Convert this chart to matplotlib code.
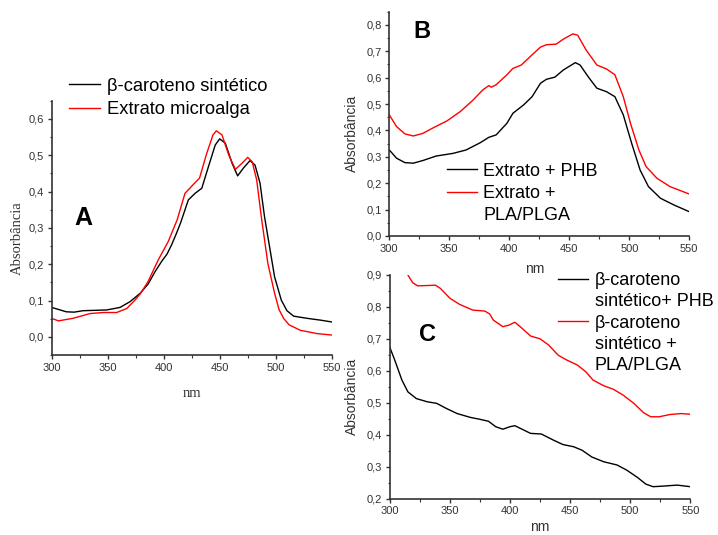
import matplotlib
matplotlib.use('Agg')
from matplotlib import pyplot as plt
from matplotlib.ticker import MultipleLocator
from matplotlib.lines import Line2D

plt.rcParams['font.family'] = ['Liberation Sans', 'DejaVu Sans']

# painel A - espectros
a_x_sint = [300, 313, 320, 328, 349, 361, 370, 379, 386, 392, 398, 403, 407, 411, 415, 422, 428,
            434, 440, 446, 450, 455, 461, 466, 471, 477, 481.5, 486, 490, 495, 499, 505, 510,
            516, 528, 540, 550]
a_y_sint = [0.081, 0.069, 0.068, 0.072, 0.074, 0.081, 0.097, 0.120, 0.145, 0.178, 0.207, 0.228,
            0.253, 0.282, 0.313, 0.377, 0.395, 0.409, 0.469, 0.528, 0.545, 0.533, 0.478, 0.443,
            0.464, 0.485, 0.473, 0.423, 0.331, 0.239, 0.165, 0.101, 0.072, 0.057, 0.051, 0.046,
            0.041]
a_x_alga = [300, 306, 319, 334, 346, 358, 367, 374, 379, 386, 395, 404, 412, 419, 426, 432, 438,
            444, 447, 452, 458, 464, 470, 475, 479, 483, 487.5, 493, 499, 503, 507, 512, 522,
            537, 550]
a_y_alga = [0.051, 0.044, 0.051, 0.064, 0.067, 0.067, 0.078, 0.100, 0.118, 0.152, 0.211, 0.262,
            0.322, 0.395, 0.418, 0.437, 0.501, 0.556, 0.567, 0.556, 0.501, 0.461, 0.478, 0.494,
            0.482, 0.432, 0.322, 0.202, 0.120, 0.075, 0.051, 0.033, 0.018, 0.009, 0.005]

# painel B
b_x_phb = [300, 306, 313, 320, 328, 339, 353, 364, 376, 383, 389, 398, 403, 412, 419, 426, 431,
           438, 445, 455, 459, 466, 473, 481, 488, 495, 502, 509, 516, 526, 537, 550]
b_y_phb = [0.326, 0.295, 0.278, 0.276, 0.286, 0.303, 0.313, 0.326, 0.354, 0.374, 0.383, 0.427,
           0.465, 0.497, 0.528, 0.579, 0.594, 0.602, 0.629, 0.657, 0.648, 0.602, 0.560, 0.547,
           0.528, 0.459, 0.351, 0.250, 0.187, 0.143, 0.118, 0.092]
b_x_pla = [300, 306, 313, 320, 328, 337, 348, 359, 370, 378, 383, 385, 389, 398, 403, 410, 417,
           426, 431, 439, 445, 453, 457, 464, 473, 481, 488, 495, 501, 508, 514, 523, 534, 550]
b_y_pla = [0.459, 0.415, 0.387, 0.379, 0.389, 0.411, 0.436, 0.471, 0.516, 0.554, 0.570, 0.564,
           0.573, 0.611, 0.635, 0.648, 0.678, 0.716, 0.725, 0.727, 0.746, 0.766, 0.761, 0.705,
           0.648, 0.633, 0.611, 0.528, 0.427, 0.326, 0.263, 0.219, 0.187, 0.159]

# painel C
c_x_phb = [300, 304, 310, 315, 322, 331, 339, 347, 356, 367, 375, 382, 388, 394, 400, 404, 410,
           417, 426, 436, 444, 453, 460, 468, 478, 489, 497, 506, 513, 519, 528, 539, 550]
c_y_phb = [0.673, 0.634, 0.571, 0.534, 0.513, 0.503, 0.498, 0.482, 0.466, 0.454, 0.448, 0.442,
           0.425, 0.417, 0.425, 0.428, 0.417, 0.404, 0.402, 0.383, 0.369, 0.362, 0.351, 0.330,
           0.315, 0.305, 0.289, 0.266, 0.245, 0.237, 0.239, 0.242, 0.237]
c_x_pla = [315, 319, 323, 331, 338, 342, 350, 358, 369, 379, 383, 386, 394, 399, 404, 410, 417,
           425, 432, 440, 447, 456, 463, 469, 478, 486, 494, 503, 511, 517, 524, 533, 542, 550]
c_y_pla = [0.900, 0.876, 0.866, 0.867, 0.868, 0.858, 0.827, 0.808, 0.790, 0.787, 0.778, 0.759,
           0.738, 0.743, 0.752, 0.733, 0.709, 0.700, 0.681, 0.649, 0.634, 0.618, 0.597, 0.571,
           0.553, 0.542, 0.524, 0.498, 0.469, 0.456, 0.456, 0.463, 0.466, 0.464]

x_ticks = [300, 350, 400, 450, 500, 550]


def estilo(ax, ylim, yticks):
    ax.set_xlim(300, 550)
    ax.set_ylim(*ylim)
    for s in ['top', 'right']:
        ax.spines[s].set_visible(False)
    for s in ['left', 'bottom']:
        ax.spines[s].set_linewidth(1.2)
        ax.spines[s].set_color('#333333')
    ax.set_xticks(x_ticks)
    ax.xaxis.set_minor_locator(MultipleLocator(25))
    ax.set_yticks(yticks)
    ax.set_yticklabels([f'{v:.1f}'.replace('.', ',') for v in yticks])
    ax.yaxis.set_minor_locator(MultipleLocator(0.05))
    ax.tick_params(which='major', direction='out', length=3, width=1, labelsize=8,
                   pad=2.5, colors='#333333')
    ax.tick_params(which='minor', direction='out', length=1.8, width=0.8, colors='#333333')


fig = plt.figure(figsize=(7.18, 5.35), dpi=100)
ax_a = fig.add_axes([0.072, 0.3364, 0.390, 0.4754])
ax_b = fig.add_axes([0.5422, 0.5589, 0.4178, 0.4192])
ax_c = fig.add_axes([0.543, 0.0682, 0.4185, 0.4178])

# A
la1, = ax_a.plot(a_x_sint, a_y_sint, 'k-', lw=1.0)
la2, = ax_a.plot(a_x_alga, a_y_alga, '-', color='red', lw=1.0)
estilo(ax_a, (-0.05, 0.65), [0.0, 0.1, 0.2, 0.3, 0.4, 0.5, 0.6])
ax_a.legend([la1, la2], ['β-caroteno sintético', 'Extrato microalga'], loc='upper left',
            bbox_to_anchor=(0.0961, 0.855), bbox_transform=fig.transFigure, frameon=False,
            fontsize=13.2, handlelength=1.67, handletextpad=0.43, labelspacing=0.36,
            borderpad=0, borderaxespad=0)
fig.text(0.1156, 0.5925, 'A', fontsize=18, fontweight='bold', ha='center', va='center')
fig.text(0.0237, 0.555, 'Absorbância', family='Liberation Serif', fontsize=10.5,
         rotation=90, ha='center', va='center', color='#333333')
fig.text(0.267, 0.2654, 'nm', family='Liberation Serif', fontsize=10.5,
         ha='center', va='center', color='#333333')

# B
lb1, = ax_b.plot(b_x_phb, b_y_phb, 'k-', lw=1.0)
lb2, = ax_b.plot(b_x_pla, b_y_pla, '-', color='red', lw=1.0)
estilo(ax_b, (0.0, 0.85), [0.0, 0.1, 0.2, 0.3, 0.4, 0.5, 0.6, 0.7, 0.8])
vazio = Line2D([], [], linestyle='none')
ax_b.legend([lb1, lb2, vazio], ['Extrato + PHB', 'Extrato +', 'PLA/PLGA'], loc='upper left',
            bbox_to_anchor=(0.622, 0.696), bbox_transform=fig.transFigure, frameon=False,
            fontsize=13, handlelength=1.67, handletextpad=0.36, labelspacing=0.3,
            borderpad=0, borderaxespad=0)
fig.text(0.587, 0.941, 'B', fontsize=17, fontweight='bold', ha='center', va='center')
fig.text(0.4898, 0.7514, 'Absorbância', fontsize=10, rotation=90, ha='center', va='center',
         color='#333333')
fig.text(0.745, 0.4963, 'nm', fontsize=10, ha='center', va='center', color='#333333')

# C
lc1, = ax_c.plot(c_x_phb, c_y_phb, 'k-', lw=1.0)
lc2, = ax_c.plot(c_x_pla, c_y_pla, '-', color='red', lw=1.0)
estilo(ax_c, (0.2, 0.9), [0.2, 0.3, 0.4, 0.5, 0.6, 0.7, 0.8, 0.9])
ax_c.legend([lc1, vazio, lc2, vazio, vazio],
            ['β-caroteno', 'sintético+ PHB', 'β-caroteno', 'sintético +', 'PLA/PLGA'],
            loc='upper left', bbox_to_anchor=(0.777, 0.4916), bbox_transform=fig.transFigure,
            frameon=False, fontsize=13, handlelength=1.67, handletextpad=0.38,
            labelspacing=0.24, borderpad=0, borderaxespad=0)
fig.text(0.596, 0.374, 'C', fontsize=17, fontweight='bold', ha='center', va='center')
fig.text(0.4907, 0.26, 'Absorbância', fontsize=10, rotation=90, ha='center', va='center',
         color='#333333')
fig.text(0.752, 0.002, 'nm', fontsize=10, ha='center', va='bottom', color='#333333')

fig.savefig('out.png', dpi=100)
